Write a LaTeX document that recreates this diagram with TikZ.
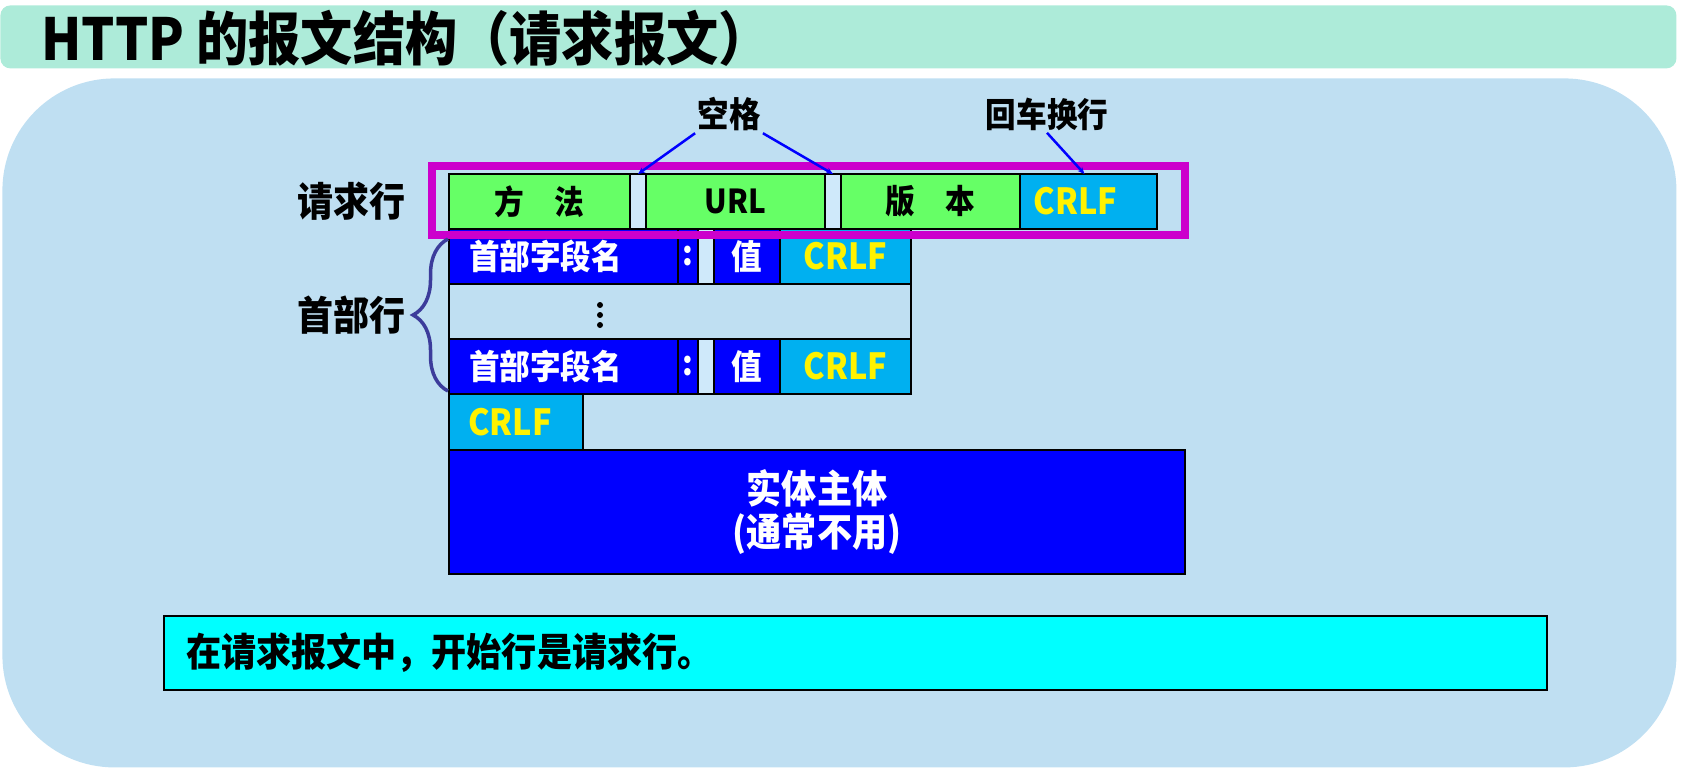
\documentclass[tikz,border=0pt]{standalone}
\usepackage{fontspec}
\setmainfont{Noto Sans CJK SC}[FakeStretch=0.9]
\usepackage{xcolor}
\definecolor{Slide-title}{RGB}{173, 235, 217}
\definecolor{Slide-panel}{RGB}{191, 223, 242}
\definecolor{Slide-gap}{RGB}{207, 233, 250}
\definecolor{Slide-green}{RGB}{102, 255, 102}
\definecolor{Slide-sky}{RGB}{0, 176, 240}
\definecolor{Slide-blue}{RGB}{0, 0, 255}
\definecolor{Slide-magenta}{RGB}{204, 0, 204}
\definecolor{Slide-cyan}{RGB}{0, 255, 255}
\definecolor{Slide-brace}{RGB}{60, 60, 155}
\usepackage{tikz}
\usetikzlibrary{arrows.meta,positioning,calc,decorations.pathreplacing}
\newcommand{\pxfont}[1]{\fontsize{#1}{#1}\selectfont}
\newcommand{\padright}[1]{\hspace{#1}\mbox{}}

\begin{document}
\begin{tikzpicture} [
    x=1pt, y=-1pt, thick, >=Stealth, font=\bfseries,
    cell/.style = {rectangle,draw=black,line width=2pt,inner sep=0pt,outer sep=0pt,anchor=north west,minimum height=55},
    greencell/.style = {cell,fill=Slide-green,font=\bfseries\pxfont{33}},
    skycell/.style = {cell,fill=Slide-sky,text=yellow,font=\bfseries\pxfont{36}},
    bluecell/.style = {cell,fill=Slide-blue,text=white,font=\bfseries\pxfont{34}},
    gapcell/.style = {cell,fill=Slide-gap,minimum width=16},
    plain/.style = {inner sep=2pt,font=\bfseries\pxfont{#1}},
    pointer/.style = {Slide-blue,line width=2.5pt,-{Stealth[length=7pt,width=6pt]}}
    ]

    \useasboundingbox (0,0) rectangle (1693,782);

    \node (bar) [fill=Slide-title,rounded corners=10pt,inner sep=0pt,anchor=north west,minimum width=1676,minimum height=63] at (0,5) {};
    \node (title) [plain=58,anchor=west] at (39,38) {HTTP 的报文结构（请求报文）};

    \node (panel) [fill=Slide-panel,rounded corners=112pt,inner sep=0pt,anchor=north west,minimum width=1674,minimum height=689] at (2,78) {};

    \node (method) [greencell,minimum width=181] at (449,174) {方\hspace{0.9em}法};
    \node (gap1) [gapcell] at (630,174) {};
    \node (url) [greencell,minimum width=179] at (646,174) {URL};
    \node (gap2) [gapcell] at (825,174) {};
    \node (version) [greencell,minimum width=179] at (841,174) {版\hspace{0.9em}本};
    \node (crlf0) [skycell,minimum width=137] at (1020,174) {CRLF\padright{26pt}};

    \foreach \n/\y in {1/229, 3/339}
        {
            \node (name\n) [bluecell,minimum width=229] at (449,\y) {首部字段名\padright{36pt}};
            \node (colon\n) [bluecell,minimum width=20] at (678,\y) {:};
            \node (space\n) [gapcell] at (698,\y) {};
            \node (value\n) [bluecell,minimum width=66] at (714,\y) {值};
            \node (crlf\n) [skycell,minimum width=131] at (780,\y) {CRLF};
        }

    \node (more) [cell,minimum width=462] at (449,284) {};
    \foreach \d in {305,315,325}
        \fill (600,\d) circle (3pt);

    \node (crlf4) [skycell,minimum width=134,minimum height=56] at (449,394) {CRLF\padright{12pt}};
    \node (body) [bluecell,minimum width=736,minimum height=124,align=center,font=\bfseries\fontsize{39}{43}\selectfont] at (449,450) {实体主体\\(通常不用)};

    \node (note) [cell,fill=Slide-cyan,minimum width=1383,minimum height=74,inner xsep=22pt,text width=1339pt,align=left,font=\bfseries\pxfont{39}] at (164,616) {在请求报文中，开始行是请求行。};

    \node (reqframe) [draw=Slide-magenta,line width=8pt,inner sep=0pt,outer sep=0pt,anchor=north west,minimum width=753,minimum height=69] at (432,166) {};

    \node (reqlabel) [plain=40] at (351,201) {请求行};
    \node (hdrlabel) [plain=40] at (351,315) {首部行};
    \node (blank) [plain=35] at (729,114) {空格};
    \node (crlflabel) [plain=34] at (1047,114) {回车换行};

    \draw[Slide-brace,line width=3.5pt,decorate,decoration={brace,amplitude=35pt}] ([xshift=-1pt,yshift=3pt]name3.south west) -- ([xshift=-1pt,yshift=-10pt]name1.north west);

    \draw[pointer] (blank.south west) -- (gap1.north);
    \draw[pointer] (blank.south east) -- (gap2.north);
    \draw[pointer] (crlflabel.south) -- ([xshift=-4pt]crlf0.north);

\end{tikzpicture}
\end{document}
